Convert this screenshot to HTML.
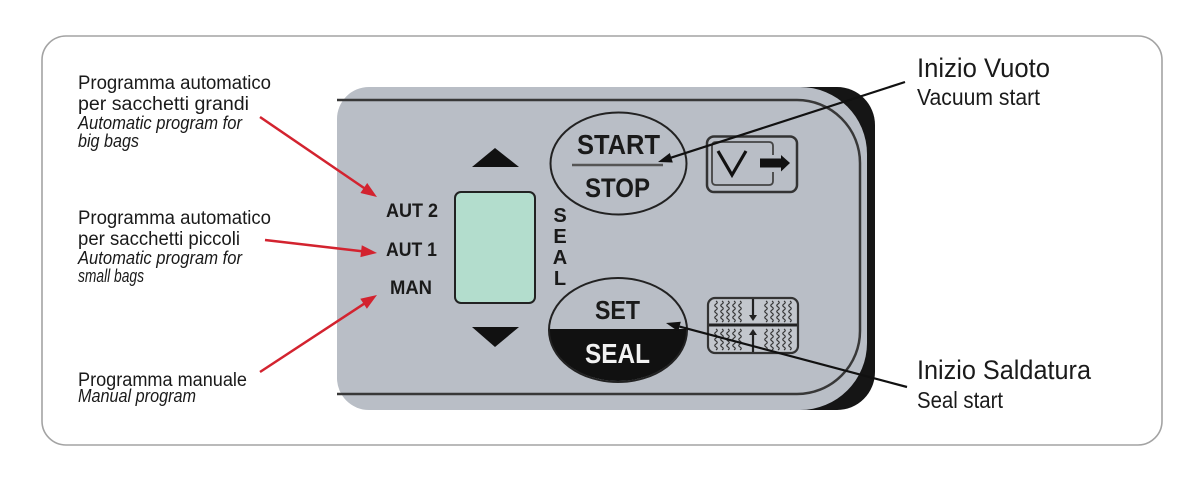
<!DOCTYPE html>
<html>
<head>
<meta charset="utf-8">
<style>
  html,body{margin:0;padding:0;background:#fff;}
  svg{display:block;}
  text{font-family:"Liberation Sans",Arial,sans-serif;}
</style>
</head>
<body>
<svg width="1200" height="489" viewBox="0 0 1200 489" xmlns="http://www.w3.org/2000/svg">
  <defs>
    <path id="w" d="M0 0 q2.5 1.5 0 3 t0 3 t0 3 t0 3 t0 3 t0 3 t0 3" fill="none" stroke="#333" stroke-width="1.2"/>
  </defs>
  <rect x="0" y="0" width="1200" height="489" fill="#fff"/>
  <!-- outer frame -->
  <rect x="42" y="36" width="1120" height="409" rx="24" ry="24" fill="none" stroke="#a3a3a3" stroke-width="1.6"/>

  <!-- panel -->
  <path d="M 380 87 H 837 A 38 38 0 0 1 875 125 V 372 A 38 38 0 0 1 837 410 H 380 Z" fill="#151515"/>
  <path d="M 369 87 H 800 A 67 67 0 0 1 867 154 V 343 A 67 67 0 0 1 800 410 H 369 A 32 32 0 0 1 337 378 V 119 A 32 32 0 0 1 369 87 Z" fill="#b9bec6"/>
  <path d="M 337 100 H 797 A 63 63 0 0 1 860 163 V 331 A 63 63 0 0 1 797 394 H 337" fill="none" stroke="#383838" stroke-width="2.5"/>

  <!-- triangles -->
  <polygon points="495,148 472,167 519,167" fill="#111"/>
  <polygon points="472,327 519,327 495,347" fill="#111"/>

  <!-- display -->
  <rect x="455" y="192" width="80" height="111" rx="6" fill="#b3ddcd" stroke="#222" stroke-width="2"/>

  <!-- mode labels -->
  <text x="386" y="217" font-size="19" font-weight="bold" fill="#1a1a1a" textLength="52" lengthAdjust="spacingAndGlyphs">AUT 2</text>
  <text x="386" y="256" font-size="19" font-weight="bold" fill="#1a1a1a" textLength="51" lengthAdjust="spacingAndGlyphs">AUT 1</text>
  <text x="390" y="294" font-size="19" font-weight="bold" fill="#1a1a1a" textLength="42" lengthAdjust="spacingAndGlyphs">MAN</text>

  <!-- vertical SEAL -->
  <g font-size="20" font-weight="bold" fill="#1a1a1a" text-anchor="middle">
    <text x="560" y="222">S</text>
    <text x="560" y="243">E</text>
    <text x="560" y="264">A</text>
    <text x="560" y="285">L</text>
  </g>

  <!-- START/STOP -->
  <ellipse cx="618.5" cy="163.5" rx="68" ry="51" fill="none" stroke="#222" stroke-width="2"/>
  <line x1="572" y1="165" x2="663" y2="165" stroke="#555" stroke-width="2.5"/>
  <text x="577" y="154" font-size="28" font-weight="bold" fill="#1a1a1a" textLength="83" lengthAdjust="spacingAndGlyphs">START</text>
  <text x="585" y="197" font-size="27" font-weight="bold" fill="#1a1a1a" textLength="65" lengthAdjust="spacingAndGlyphs">STOP</text>

  <!-- SET/SEAL -->
  <path d="M 549 329 A 69 52 0 0 0 687 329 Z" fill="#111"/>
  <ellipse cx="618" cy="330" rx="69" ry="52" fill="none" stroke="#222" stroke-width="2"/>
  <text x="595" y="319" font-size="26" font-weight="bold" fill="#1a1a1a" textLength="45" lengthAdjust="spacingAndGlyphs">SET</text>
  <text x="585" y="363" font-size="28" font-weight="bold" fill="#f2f2f2" textLength="65" lengthAdjust="spacingAndGlyphs">SEAL</text>

  <!-- V icon -->
  <rect x="707" y="136.5" width="90" height="55.5" rx="7" fill="none" stroke="#333" stroke-width="2.5"/>
  <path d="M 773 155 V 146 Q 773 142 769 142 H 716 Q 712 142 712 146 V 181 Q 712 185 716 185 H 769 Q 773 185 773 181 V 172" fill="none" stroke="#444" stroke-width="1.8"/>
  <polyline points="718,151 732,175 746,151" fill="none" stroke="#111" stroke-width="3.2"/>
  <rect x="760" y="158.5" width="23" height="9" fill="#111"/>
  <polygon points="781,155 790,163 781,171.5" fill="#111"/>

  <!-- seal icon -->
  <rect x="708" y="298" width="90" height="55" rx="7" fill="#c3c7cd" stroke="#333" stroke-width="2.2"/>
  <g>
    <use href="#w" x="716" y="301"/><use href="#w" x="722" y="301"/><use href="#w" x="728" y="301"/><use href="#w" x="734" y="301"/><use href="#w" x="740" y="301"/>
    <use href="#w" x="766" y="301"/><use href="#w" x="772" y="301"/><use href="#w" x="778" y="301"/><use href="#w" x="784" y="301"/><use href="#w" x="790" y="301"/>
    <use href="#w" x="716" y="329"/><use href="#w" x="722" y="329"/><use href="#w" x="728" y="329"/><use href="#w" x="734" y="329"/><use href="#w" x="740" y="329"/>
    <use href="#w" x="766" y="329"/><use href="#w" x="772" y="329"/><use href="#w" x="778" y="329"/><use href="#w" x="784" y="329"/><use href="#w" x="790" y="329"/>
  </g>
  <line x1="709" y1="325" x2="797" y2="325" stroke="#222" stroke-width="3"/>
  <line x1="753" y1="299" x2="753" y2="316" stroke="#222" stroke-width="2.2"/>
  <polygon points="749,315 757,315 753,321" fill="#222"/>
  <line x1="753" y1="352" x2="753" y2="334" stroke="#222" stroke-width="2.2"/>
  <polygon points="749,335 757,335 753,329" fill="#222"/>

  <!-- red arrows -->
  <g stroke="#d3232f" stroke-width="2.5" fill="#d3232f">
    <line x1="260" y1="117" x2="364" y2="188"/>
    <polygon stroke="none" points="377,197 360.4,193 367.2,183"/>
    <line x1="265" y1="240" x2="362" y2="251.2"/>
    <polygon stroke="none" points="377,253 360.4,257.1 361.8,245.2"/>
    <line x1="260" y1="372" x2="364" y2="303.8"/>
    <polygon stroke="none" points="377,295 366.9,308.8 360.3,298.8"/>
  </g>

  <!-- black arrows -->
  <g stroke="#111" stroke-width="2.2" fill="#111">
    <line x1="905" y1="82" x2="671" y2="157.7"/>
    <polygon stroke="none" points="658,162 672.8,162.5 669.8,153"/>
    <line x1="907" y1="387" x2="679.5" y2="326.6"/>
    <polygon stroke="none" points="666,323 678.2,331.4 680.8,321.8"/>
  </g>

  <!-- left labels -->
  <g fill="#1a1a1a">
    <text x="78" y="89" font-size="19" textLength="193" lengthAdjust="spacingAndGlyphs">Programma automatico</text>
    <text x="78" y="110" font-size="19" textLength="171" lengthAdjust="spacingAndGlyphs">per sacchetti grandi</text>
    <text x="78" y="129" font-size="18" font-style="italic" textLength="164" lengthAdjust="spacingAndGlyphs">Automatic program for</text>
    <text x="78" y="147" font-size="18" font-style="italic" textLength="61" lengthAdjust="spacingAndGlyphs">big bags</text>

    <text x="78" y="224" font-size="19" textLength="193" lengthAdjust="spacingAndGlyphs">Programma automatico</text>
    <text x="78" y="245" font-size="19" textLength="162" lengthAdjust="spacingAndGlyphs">per sacchetti piccoli</text>
    <text x="78" y="264" font-size="18" font-style="italic" textLength="164" lengthAdjust="spacingAndGlyphs">Automatic program for</text>
    <text x="78" y="282" font-size="18" font-style="italic" textLength="66" lengthAdjust="spacingAndGlyphs">small bags</text>

    <text x="78" y="386" font-size="19" textLength="169" lengthAdjust="spacingAndGlyphs">Programma manuale</text>
    <text x="78" y="402" font-size="18" font-style="italic" textLength="118" lengthAdjust="spacingAndGlyphs">Manual program</text>
  </g>

  <!-- right labels -->
  <g fill="#1a1a1a">
    <text x="917" y="77" font-size="27" textLength="133" lengthAdjust="spacingAndGlyphs">Inizio Vuoto</text>
    <text x="917" y="105" font-size="23" textLength="123" lengthAdjust="spacingAndGlyphs">Vacuum start</text>
    <text x="917" y="379" font-size="27" textLength="174" lengthAdjust="spacingAndGlyphs">Inizio Saldatura</text>
    <text x="917" y="408" font-size="23" textLength="86" lengthAdjust="spacingAndGlyphs">Seal start</text>
  </g>
</svg>
</body>
</html>
